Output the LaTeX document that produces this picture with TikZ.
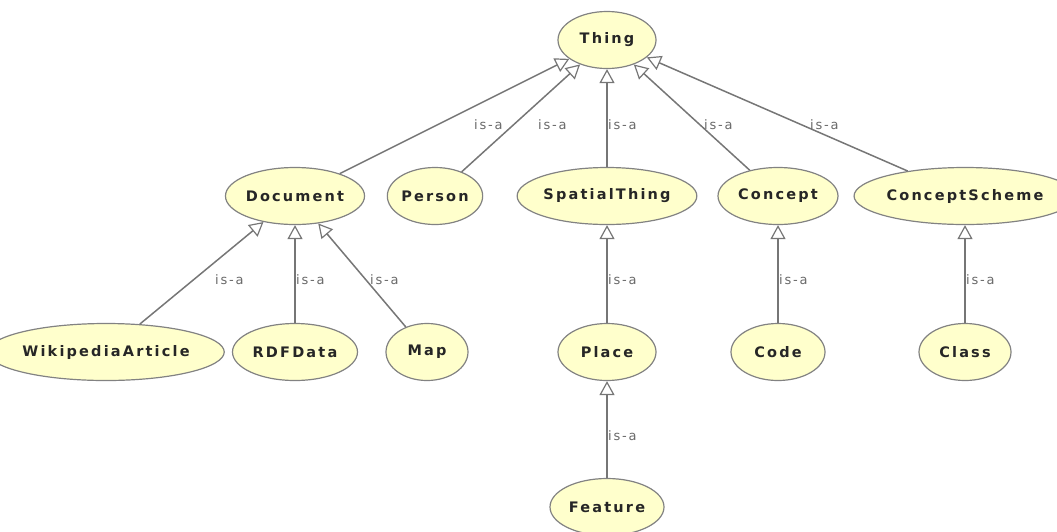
\documentclass[tikz,border=0pt]{standalone}
\usepackage{fontspec}
\usetikzlibrary{shapes.geometric,arrows.meta}
\newfontfamily\classfont[LetterSpace=15]{DejaVu Sans Bold}
\newfontfamily\relfont[LetterSpace=14]{DejaVu Sans}
\definecolor{classfill}{RGB}{255,255,204}
\definecolor{classline}{RGB}{130,130,130}
\definecolor{edgeline}{RGB}{118,118,118}
\definecolor{relgray}{RGB}{105,105,105}
\begin{document}
\begin{tikzpicture}[x=1pt,y=-1pt,
  cls/.style={ellipse, draw=classline, line width=1.2pt, fill=classfill,
    minimum height=57pt, inner sep=0pt, text=black!85,
    font=\classfont\fontsize{14.5pt}{16pt}\selectfont},
  isa/.style={draw=edgeline, line width=1.5pt,
    -{Triangle[open, length=14pt, width=15pt, line width=1.2pt]}},
  rel/.style={text=relgray, inner sep=0pt, anchor=west,
    font=\relfont\fontsize{13pt}{15pt}\selectfont}]
\useasboundingbox (0,0) rectangle (1057,531);

% classes
\node[cls, minimum width=98pt]  (thing)   at (607,40)  {Thing};
\node[cls, minimum width=136pt] (doc)     at (295,196) {Document};
\node[cls, minimum width=87pt]  (person)  at (435,196) {Person};
\node[cls, minimum width=164pt] (spatial) at (607,196) {SpatialThing};
\node[cls, minimum width=120pt] (concept) at (778,196) {Concept};
\node[cls, minimum width=200pt] (scheme)  at (965,196) {ConceptScheme};
\node[cls, minimum width=196pt] (wiki)    at (106,352) {WikipediaArticle};
\node[cls, minimum width=125pt] (rdf)     at (295,352) {RDFData};
\node[cls, minimum width=82pt]  (map)     at (427,352) {Map};
\node[cls, minimum width=98pt]  (place)   at (607,352) {Place};
\node[cls, minimum width=94pt]  (code)    at (778,352) {Code};
\node[cls, minimum width=92pt]  (class)   at (965,352) {Class};
\node[cls, minimum width=114pt] (feature) at (607,507) {Feature};

% subclass relations
\draw[isa] (doc) -- (thing);
\draw[isa] (person) -- (thing);
\draw[isa] (spatial) -- (thing);
\draw[isa] (concept) -- (thing);
\draw[isa] (scheme) -- (thing);
\draw[isa] (wiki) -- (doc);
\draw[isa] (rdf) -- (doc);
\draw[isa] (map) -- (doc);
\draw[isa] (place) -- (spatial);
\draw[isa] (code) -- (concept);
\draw[isa] (class) -- (scheme);
\draw[isa] (feature) -- (place);

% relation labels
\node[rel] (l1)  at (474,125) {is-a};
\node[rel] (l2)  at (538,125) {is-a};
\node[rel] (l3)  at (608,125) {is-a};
\node[rel] (l4)  at (704,125) {is-a};
\node[rel] (l5)  at (810,125) {is-a};
\node[rel] (l6)  at (215,280) {is-a};
\node[rel] (l7)  at (296,280) {is-a};
\node[rel] (l8)  at (370,280) {is-a};
\node[rel] (l9)  at (608,280) {is-a};
\node[rel] (l10) at (779,280) {is-a};
\node[rel] (l11) at (966,280) {is-a};
\node[rel] (l12) at (608,436) {is-a};
\end{tikzpicture}
\end{document}
